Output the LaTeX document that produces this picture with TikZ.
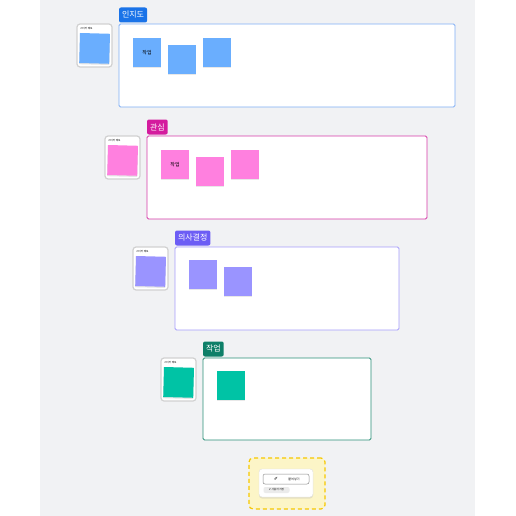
\documentclass[tikz,border=0pt]{standalone}
\usepackage{fontspec}
\setmainfont{Noto Sans CJK KR}
\newfontfamily\symfont{DejaVu Sans}
\usepackage{tikz}
\usetikzlibrary{positioning,shadows}
\definecolor{BoardBg}{HTML}{F1F2F4}
\definecolor{BlueTag}{HTML}{1A73E8}
\definecolor{BlueLine}{HTML}{7FAEF5}
\definecolor{BlueNote}{HTML}{6AAEFE}
\definecolor{PinkTag}{HTML}{D41B9E}
\definecolor{PinkLine}{HTML}{D63AA8}
\definecolor{PinkNote}{HTML}{FF80DF}
\definecolor{VioTag}{HTML}{6C5DF5}
\definecolor{VioLine}{HTML}{A59CFB}
\definecolor{VioNote}{HTML}{9A94FF}
\definecolor{TealTag}{HTML}{0D7F68}
\definecolor{TealLine}{HTML}{2A8F77}
\definecolor{TealNote}{HTML}{00C3A5}
\definecolor{ParkFill}{HTML}{FCF5C7}
\definecolor{ParkLine}{HTML}{F6C700}

\begin{document}
\begin{tikzpicture}[
    x=1pt,y=-1pt,
    every node/.style={inner sep=0pt,outer sep=0pt},
    frame/.style={anchor=north west,draw=#1,line width=0.9pt,fill=white,rounded corners=1.5pt},
    tag/.style={anchor=south west,fill=#1,text=white,rounded corners=2pt,font=\fontsize{8}{9}\selectfont,
      inner xsep=3pt,minimum height=15pt},
    card/.style={anchor=north west,draw=black!18,line width=1.2pt,fill=white,rounded corners=3pt,
      minimum width=35pt,minimum height=43pt},
    cardsq/.style={anchor=north west,fill=#1,minimum width=30pt,minimum height=30pt,rotate=-1.5,
      drop shadow={shadow xshift=0pt,shadow yshift=-1.2pt,opacity=0.3,fill=black!35}},
    cardtitle/.style={anchor=north west,font=\fontsize{2.6}{3}\selectfont},
    note/.style={anchor=north west,fill=#1,minimum width=28pt,minimum height=29pt,
      font=\fontsize{5}{6}\selectfont,
      drop shadow={shadow xshift=0pt,shadow yshift=-1.2pt,opacity=0.25,fill=black!35}}
  ]
  \useasboundingbox (0,0) rectangle (516,516);
  \fill[BoardBg] (40,0) rectangle (475,516);

  % awareness
  \node[frame=BlueLine,minimum width=336pt,minimum height=83pt] (fAware) at (119,24) {};
  \node[tag=BlueTag] (tAware) at ([yshift=1.5pt]fAware.north west) {인지도};
  \node[card] (cAware) at (77,24) {};
  \node[cardtitle] at ([shift={(3pt,-3pt)}]cAware.north west) {스티커 메모};
  \node[cardsq=BlueNote] (sAware) at (80,33) {};
  \node[note=BlueNote] (nAware1) at (133,38) {작업};
  \node[note=BlueNote] (nAware2) at (168,45) {};
  \node[note=BlueNote] (nAware3) at (203,38) {};

  % interest
  \node[frame=PinkLine,minimum width=280pt,minimum height=83pt] (fInter) at (147,136) {};
  \node[tag=PinkTag] (tInter) at ([yshift=1.5pt]fInter.north west) {관심};
  \node[card] (cInter) at (105,136) {};
  \node[cardtitle] at ([shift={(3pt,-3pt)}]cInter.north west) {스티커 메모};
  \node[cardsq=PinkNote] (sInter) at (108,145) {};
  \node[note=PinkNote] (nInter1) at (161,150) {작업};
  \node[note=PinkNote] (nInter2) at (196,157) {};
  \node[note=PinkNote] (nInter3) at (231,150) {};

  % decision
  \node[frame=VioLine,minimum width=224pt,minimum height=83pt] (fDecide) at (175,247) {};
  \node[tag=VioTag] (tDecide) at ([yshift=1.5pt]fDecide.north west) {의사결정};
  \node[card] (cDecide) at (133,247) {};
  \node[cardtitle] at ([shift={(3pt,-3pt)}]cDecide.north west) {스티커 메모};
  \node[cardsq=VioNote] (sDecide) at (136,256) {};
  \node[note=VioNote] (nDecide1) at (189,260) {};
  \node[note=VioNote] (nDecide2) at (224,267) {};

  % action
  \node[frame=TealLine,minimum width=168pt,minimum height=82pt] (fAction) at (203,358) {};
  \node[tag=TealTag] (tAction) at ([yshift=1.5pt]fAction.north west) {작업};
  \node[card] (cAction) at (161,358) {};
  \node[cardtitle] at ([shift={(3pt,-3pt)}]cAction.north west) {스티커 메모};
  \node[cardsq=TealNote] (sAction) at (164,367) {};
  \node[note=TealNote] (nAction1) at (217,371) {};

  % parking area
  \node[anchor=north west,fill=ParkFill,draw=ParkLine,line width=1.2pt,dash pattern=on 4pt off 3pt,
    rounded corners=4pt,minimum width=76pt,minimum height=51pt] (park) at (249,458) {};
  \node[anchor=north west,fill=white,draw=black!12,rounded corners=3pt,minimum width=54pt,minimum height=28pt,
    drop shadow={shadow xshift=0pt,shadow yshift=-1.5pt,opacity=0.3,fill=black!30}] (panel) at (259,469) {};
  \node[anchor=north west,draw=black!45,line width=0.5pt,rounded corners=2pt,fill=white,
    minimum width=46pt,minimum height=10pt] (btn) at (263,474) {};
  \node[font=\symfont\fontsize{4.5}{5}\selectfont] at ([xshift=-10pt]btn.center) {✐};
  \node[font=\fontsize{3}{4}\selectfont] at ([xshift=8pt]btn.center) {붙여넣기};
  \node[anchor=north west,fill=black!8,rounded corners=2pt,minimum width=26pt,minimum height=6pt,
    font=\fontsize{2.6}{3}\selectfont] (chip) at (263.5,487) {\symfont ✐\,\normalfont 사용자 지정};
\end{tikzpicture}
\end{document}
